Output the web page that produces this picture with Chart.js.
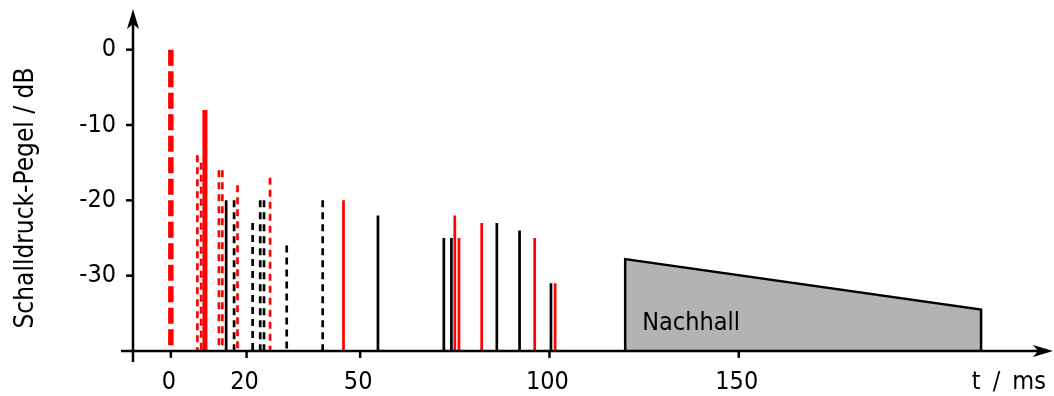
<!DOCTYPE html>
<html lang="de">
  <head>
    <meta charset="utf-8" />
    <title>Schalldruck-Pegel</title>
    <style>
      html, body { margin: 0; padding: 0; background: #fff; }
      .chartBox { width: 1054px; height: 396px; }
    </style>
  </head>
  <body>
    <div class="chartBox">
      <canvas id="myChart"></canvas>
    </div>
    <script src="https://cdn.jsdelivr.net/npm/chart.js"></script>
    <script>
      // data (t in ms, level in dB)
      const directTime = [0];
      const directLevel = [0];
      const strongTime = [9];
      const strongLevel = [-8];
      const redDashedTime = [7, 8, 12.7, 13.6, 17.6, 26.2];
      const redDashedLevel = [-14, -15, -16, -16, -18, -17];
      const blackDashedTime = [16.7, 21.6, 23.6, 24.6, 30.6, 40.1];
      const blackDashedLevel = [-20, -23, -20, -20, -26, -20];
      const blackSolidTime = [14.6, 54.7, 72.1, 74.1, 86.1, 92.1, 100.4];
      const blackSolidLevel = [-20, -22, -25, -25, -23, -24, -31];
      const redSolidTime = [45.6, 75.0, 76.1, 82.1, 96.1, 101.5];
      const redSolidLevel = [-20, -22, -25, -23, -25, -31];
      const reverbTime = [120, 214];
      const reverbLevel = [-27.8, -34.5];

      const xTicks = [0, 20, 50, 100, 150];
      const yTicks = [0, -10, -20, -30];
      const floorLevel = -40;
      const FAMILY = "'DejaVu Sans Condensed', 'DejaVu Sans', sans-serif";

      // one line dataset per reflection, drawn from the top down to the floor
      function spikes(times, levels, color, width, dash) {
        return times.map((t, i) => ({
          data: [{ x: t, y: levels[i] }, { x: t, y: floorLevel }],
          borderColor: color,
          borderWidth: width,
          borderDash: dash,
          borderCapStyle: 'butt',
          pointRadius: 0,
          fill: false
        }));
      }

      const reverb = {
        data: [
          { x: reverbTime[0], y: floorLevel },
          { x: reverbTime[0], y: reverbLevel[0] },
          { x: reverbTime[1], y: reverbLevel[1] },
          { x: reverbTime[1], y: floorLevel }
        ],
        borderColor: '#000',
        borderWidth: 2.5,
        backgroundColor: '#b3b3b3',
        pointRadius: 0,
        tension: 0,
        fill: { value: floorLevel }
      };

      const datasets = [
        reverb,
        ...spikes(blackSolidTime, blackSolidLevel, '#000', 2.7, []),
        ...spikes(blackDashedTime, blackDashedLevel, '#000', 2.7, [7, 5]),
        ...spikes(redSolidTime, redSolidLevel, '#ff0000', 2.7, []),
        ...spikes(redDashedTime, redDashedLevel, '#ff0000', 2.7, [7, 5]),
        ...spikes(strongTime, strongLevel, '#ff0000', 5, []),
        ...spikes(directTime, directLevel, '#ff0000', 5.5, [16, 5.5])
      ];

      // axes with arrows, ticks, labels and titles
      const arrowAxes = {
        id: 'arrowAxes',
        afterDatasetsDraw(chart) {
          const { ctx, chartArea: { top, right }, scales: { x, y } } = chart;
          const ax = x.getPixelForValue(x.min);
          const ay = y.getPixelForValue(floorLevel);
          ctx.save();
          ctx.strokeStyle = '#000';
          ctx.fillStyle = '#000';
          ctx.lineWidth = 2.5;

          // x axis
          ctx.beginPath();
          ctx.moveTo(ax - 12, ay);
          ctx.lineTo(right - 10, ay);
          ctx.stroke();
          ctx.beginPath();
          ctx.moveTo(right, ay);
          ctx.lineTo(right - 20, ay - 6);
          ctx.lineTo(right - 15, ay);
          ctx.lineTo(right - 20, ay + 6);
          ctx.closePath();
          ctx.fill();

          // y axis
          ctx.beginPath();
          ctx.moveTo(ax, ay + 11);
          ctx.lineTo(ax, top + 8);
          ctx.stroke();
          ctx.beginPath();
          ctx.moveTo(ax, top - 3);
          ctx.lineTo(ax - 6, top + 17);
          ctx.lineTo(ax, top + 12);
          ctx.lineTo(ax + 6, top + 17);
          ctx.closePath();
          ctx.fill();

          // ticks
          ctx.font = '25px ' + FAMILY;
          ctx.textAlign = 'center';
          ctx.textBaseline = 'middle';
          xTicks.forEach(v => {
            const px = x.getPixelForValue(v);
            ctx.beginPath();
            ctx.moveTo(px, ay);
            ctx.lineTo(px, ay + 7);
            ctx.stroke();
            ctx.fillText(String(v), px - 2, ay + 31);
          });
          ctx.textAlign = 'right';
          yTicks.forEach(v => {
            const py = y.getPixelForValue(v);
            ctx.beginPath();
            ctx.moveTo(ax - 7, py);
            ctx.lineTo(ax, py);
            ctx.stroke();
            ctx.fillText(String(v), ax - 17, py);
          });

          // titles
          ctx.textAlign = 'right';
          ctx.wordSpacing = '5px';
          ctx.fillText('t / ms', right - 7, ay + 31);
          ctx.wordSpacing = '0px';
          ctx.save();
          ctx.translate(26, 198);
          ctx.rotate(-Math.PI / 2);
          ctx.textAlign = 'center';
          ctx.font = '26px ' + FAMILY;
          ctx.fillText('Schalldruck-Pegel / dB', 0, 0);
          ctx.restore();

          // reverb label
          ctx.textAlign = 'left';
          ctx.fillText('Nachhall', x.getPixelForValue(reverbTime[0]) + 17, y.getPixelForValue(-36.3));
          ctx.restore();
        }
      };

      const config = {
        type: 'line',
        data: { datasets },
        options: {
          responsive: true,
          maintainAspectRatio: false,
          animation: false,
          layout: { padding: { left: 133, right: 1, top: 12, bottom: 45 } },
          scales: {
            x: { type: 'linear', min: -10, max: 233, display: false },
            y: { type: 'linear', min: -40, max: 5, display: false }
          },
          plugins: {
            legend: { display: false },
            tooltip: { enabled: false }
          }
        },
        plugins: [arrowAxes]
      };

      const myChart = new Chart(document.getElementById('myChart'), config);
    </script>
  </body>
</html>
